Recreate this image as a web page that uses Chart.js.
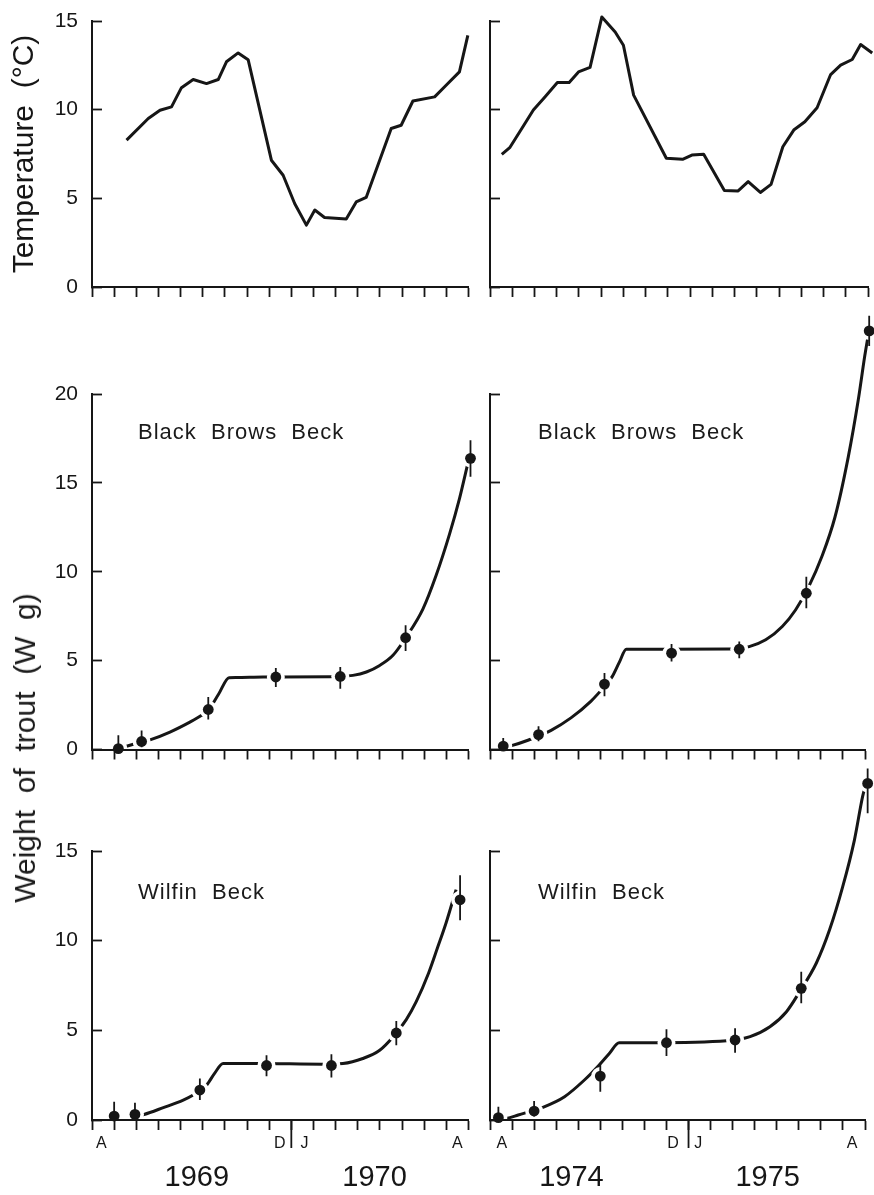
<!DOCTYPE html>
<html>
<head>
<meta charset="utf-8">
<script src="https://cdn.jsdelivr.net/npm/chart.js@4.4.1/dist/chart.umd.min.js"></script>
<style>
  html, body { margin: 0; padding: 0; background: #fff; }
  #wrap { position: relative; width: 874px; height: 1195px; overflow: hidden; background: #fff; }
  #wrap canvas { position: absolute; }
  .lbl { position: absolute; font-family: 'Liberation Sans', Arial, sans-serif; color: #1a1a1a; white-space: pre; line-height: 1; }
</style>
</head>
<body>
<div id="wrap">
  <canvas id="cTL" width="480" height="300" style="left:0;top:0"></canvas>
  <canvas id="cTR" width="394" height="300" style="left:480px;top:0"></canvas>
  <canvas id="cML" width="480" height="465" style="left:0;top:300px"></canvas>
  <canvas id="cMR" width="394" height="465" style="left:480px;top:300px"></canvas>
  <canvas id="cBL" width="480" height="430" style="left:0;top:765px"></canvas>
  <canvas id="cBR" width="394" height="430" style="left:480px;top:765px"></canvas>

  <div class="lbl" style="left:138px;top:421px;font-size:22px;letter-spacing:1px">Black  Brows  Beck</div>
  <div class="lbl" style="left:538px;top:421px;font-size:22px;letter-spacing:1px">Black  Brows  Beck</div>
  <div class="lbl" style="left:138px;top:881px;font-size:22px;letter-spacing:1px">Wilfin  Beck</div>
  <div class="lbl" style="left:538px;top:881px;font-size:22px;letter-spacing:1px">Wilfin  Beck</div>
  <div class="lbl" style="left:25px;top:748px;font-size:30px;transform:translate(-50%,-50%) rotate(-90deg)">Weight  of  trout  (W  g)</div>
</div>

<script>
// ---------------- DATA (x in axis units: tick intervals from start of April) ----------------
// Temperature, 1969-70
const temp6970X = [1.56, 2.54, 3.07, 3.59, 4.04, 4.57, 5.17, 5.7, 6.07, 6.6, 7.05, 8.1, 8.63, 9.15, 9.68, 10.06, 10.5, 11.48, 11.93, 12.38, 13.51, 13.96, 14.49, 15.47, 15.99, 16.59, 16.97];
const temp6970  = [8.28, 9.5, 9.97, 10.16, 11.24, 11.7, 11.47, 11.7, 12.7, 13.2, 12.82, 7.15, 6.3, 4.71, 3.49, 4.34, 3.92, 3.83, 4.8, 5.05, 8.94, 9.12, 10.49, 10.72, 11.38, 12.13, 14.19];
// Temperature, 1974-75
const temp7475X = [0.53, 0.9, 1.43, 1.95, 2.48, 3.03, 3.56, 3.98, 4.5, 5.03, 5.63, 6.0, 6.46, 7.93, 8.66, 9.08, 9.61, 10.54, 11.16, 11.61, 12.16, 12.64, 13.17, 13.66, 14.16, 14.71, 15.32, 15.77, 16.29, 16.67, 17.19];
const temp7475  = [7.48, 7.88, 8.94, 9.98, 10.73, 11.53, 11.53, 12.13, 12.38, 15.23, 14.38, 13.63, 10.82, 7.26, 7.2, 7.44, 7.48, 5.44, 5.42, 5.94, 5.33, 5.79, 7.91, 8.85, 9.32, 10.11, 11.98, 12.51, 12.83, 13.67, 13.2];

// Black Brows Beck 1969-70
const bbb6970SampleX = [1.19, 2.24, 5.25, 8.3, 11.21, 14.16, 17.09];
const bbb6970Mean    = [0.05, 0.45, 2.25, 4.08, 4.11, 6.29, 16.38];
const bbb6970Low     = [0, 0.13, 1.69, 3.51, 3.42, 5.54, 15.34];
const bbb6970High    = [0.8, 1.07, 2.95, 4.58, 4.64, 6.99, 17.4];
const bbb6970CurveX  = [1.19, 1.6, 2.24, 2.62, 3.52, 4.42, 4.95, 5.25, 5.72, 6.19, 6.5, 7.73, 10.73, 11.78, 12.39, 12.99, 13.59, 14.19, 14.94, 15.54, 16.14, 16.59, 16.97];
const bbb6970Curve   = [0.05, 0.2, 0.42, 0.54, 0.98, 1.54, 1.92, 2.2, 3.12, 4.04, 4.05, 4.08, 4.09, 4.17, 4.36, 4.73, 5.3, 6.33, 7.9, 9.8, 12.1, 14.1, 16.1];

// Black Brows Beck 1974-75
const bbb7475SampleX = [0.6, 2.2, 5.19, 8.23, 11.3, 14.34, 17.19];
const bbb7475Mean    = [0.19, 0.84, 3.68, 5.42, 5.64, 8.79, 23.55];
const bbb7475Low     = [0, 0.47, 3.0, 4.95, 5.14, 7.94, 22.7];
const bbb7475High    = [0.65, 1.31, 4.3, 5.94, 6.07, 9.72, 24.4];
const bbb7475CurveX  = [0.6, 0.9, 1.72, 2.77, 3.67, 4.57, 5.19, 5.54, 5.86, 6.18, 6.5, 7.26, 10.85, 11.75, 12.5, 13.25, 13.85, 14.45, 15.04, 15.64, 16.24, 16.69, 16.99, 17.14];
const bbb7475Curve   = [0.12, 0.19, 0.52, 1.08, 1.78, 2.71, 3.55, 4.1, 4.9, 5.64, 5.64, 5.64, 5.66, 5.79, 6.17, 6.92, 7.85, 9.16, 10.84, 13.08, 16.45, 19.63, 22.15, 23.27];

// Wilfin Beck 1969-70
const wb6970SampleX = [1.0, 1.94, 4.87, 7.88, 10.81, 13.74, 16.62];
const wb6970Mean    = [0.22, 0.31, 1.67, 3.04, 3.04, 4.85, 12.28];
const wb6970Low     = [0, 0, 1.11, 2.44, 2.37, 4.17, 11.14];
const wb6970High    = [1.02, 0.96, 2.31, 3.61, 3.67, 5.52, 13.65];
const wb6970CurveX  = [1.94, 2.35, 3.22, 4.12, 4.57, 5.17, 5.55, 5.92, 6.2, 7.43, 10.43, 11.33, 12.23, 12.99, 13.59, 14.19, 14.64, 15.2, 15.6, 15.99, 16.44];
const wb6970Curve   = [0.2, 0.31, 0.69, 1.11, 1.39, 1.94, 2.63, 3.15, 3.15, 3.15, 3.11, 3.15, 3.43, 3.89, 4.63, 5.6, 6.6, 8.2, 9.6, 11.0, 12.85];

// Wilfin Beck 1974-75
const wb7475SampleX = [0.38, 2.0, 5.0, 8.0, 11.11, 14.11, 17.12];
const wb7475Mean    = [0.13, 0.5, 2.45, 4.31, 4.46, 7.34, 18.77];
const wb7475Low     = [0, 0.19, 1.58, 3.57, 3.75, 6.51, 17.1];
const wb7475High    = [0.74, 1.06, 3.12, 5.06, 5.11, 8.27, 19.6];
const wb7475CurveX  = [0.38, 0.75, 1.28, 2.4, 3.38, 4.28, 4.95, 5.4, 5.86, 6.2, 7.28, 10.74, 11.79, 12.69, 13.44, 14.04, 14.79, 15.39, 15.99, 16.52, 16.89, 17.0];
const wb7475Curve   = [0.05, 0.09, 0.28, 0.71, 1.3, 2.23, 3.07, 3.7, 4.31, 4.31, 4.31, 4.42, 4.65, 5.2, 6.04, 7.16, 8.74, 10.59, 13.01, 15.61, 18.03, 18.57];

// Axis labels
const monthLabels = ['A', 'D', 'J', 'A'];
const monthTicks6970 = [0.42, 8.48, 9.6, 16.5];
const monthTicks7475 = [0.54, 8.3, 9.44, 16.41];
const yearLabels6970 = ['1969', '1970'];
const yearLabels7475 = ['1974', '1975'];
const yearTicks6970 = [4.73, 12.76];
const yearTicks7475 = [3.69, 12.59];
const janBoundary = 9;
const xAxisMax = 17;

// ---------------- RENDERING ----------------
const INK = '#161616';
const FONT = "'Liberation Sans', Arial, sans-serif";
Chart.defaults.font.family = FONT;
Chart.defaults.color = INK;

const zip = (xs, ys) => xs.map((x, i) => ({ x, y: ys[i] }));
// vertical error bars as separate 2-point segments (listed last-to-first so none is trimmed at the axis end)
function errorSegments(xs, lo, hi) {
  const out = [];
  for (let i = xs.length - 1; i >= 0; i--) {
    out.push({ x: xs[i], y: lo[i] }, { x: xs[i], y: hi[i] }, { x: xs[i], y: null });
  }
  return out;
}

const yearTickPlugin = {
  id: 'yearTick',
  afterDraw(chart, args, opts) {
    if (opts == null || opts.value == null) return;
    const xs = chart.scales.x;
    const px = xs.getPixelForValue(opts.value);
    const ctx = chart.ctx;
    ctx.save();
    ctx.strokeStyle = INK;
    ctx.lineWidth = 1.8;
    ctx.beginPath();
    ctx.moveTo(px, xs.top);
    ctx.lineTo(px, xs.top + opts.length);
    ctx.stroke();
    ctx.restore();
  }
};

// let marks that sit above the plotted range (e.g. last sample) still be drawn
const looseAreaPlugin = {
  id: 'looseArea',
  beforeDatasetsDraw(chart) {
    const a = chart.chartArea;
    chart.$savedArea = { left: a.left, right: a.right, top: a.top, bottom: a.bottom };
    a.left = 0; a.top = 0; a.right = chart.width; a.bottom = chart.height;
  },
  afterDatasetsDraw(chart) {
    Object.assign(chart.chartArea, chart.$savedArea);
  }
};

function makeChart(id, cfg) {
  const scales = {
    x: {
      type: 'linear', position: 'bottom', min: 0, max: xAxisMax, weight: 0, z: 1,
      ticks: { display: false, stepSize: 1, maxTicksLimit: 40, z: 1 },
      grid: { drawOnChartArea: false, drawTicks: true, tickLength: 10, tickWidth: 1.8, tickColor: INK, z: 1 },
      border: { display: true, color: INK, width: 2, z: 1 },
      afterFit: s => { s.height = cfg.xHeight; s.paddingLeft = 0; s.paddingRight = 0; }
    },
    y: {
      type: 'linear', position: 'left', min: 0, max: cfg.ymax, z: 1,
      ticks: { display: cfg.left, stepSize: 5, padding: 24, color: INK, font: { family: FONT, size: 21 }, z: 1 },
      grid: { drawOnChartArea: false, drawTicks: true, tickLength: -10, tickWidth: 1.8, tickColor: INK, z: 1 },
      border: { display: true, color: INK, width: 2, z: 1 },
      title: cfg.yTitle ? { display: true, text: cfg.yTitle, color: INK, font: { family: FONT, size: 30 }, padding: { top: 7, bottom: 0 } } : { display: false },
      afterFit: s => { s.width = cfg.left ? 92 : 10; s.paddingTop = 0; s.paddingBottom = 0; }
    }
  };
  if (cfg.months) {
    scales.x2 = {
      type: 'linear', position: 'bottom', min: 0, max: xAxisMax, weight: 1,
      afterBuildTicks: s => { s.ticks = cfg.monthTicks.map(v => ({ value: v })); },
      ticks: { autoSkip: false, maxRotation: 0, padding: 4, color: INK, font: { family: FONT, size: 16 },
               callback: (v, i) => cfg.months[i] },
      grid: { display: false, drawTicks: false, drawOnChartArea: false },
      border: { display: false },
      afterFit: s => { s.height = 26; s.paddingLeft = 0; s.paddingRight = 0; }
    };
    scales.x3 = {
      type: 'linear', position: 'bottom', min: 0, max: xAxisMax, weight: 2,
      afterBuildTicks: s => { s.ticks = cfg.yearTicks.map(v => ({ value: v })); },
      ticks: { autoSkip: false, maxRotation: 0, padding: 5, color: INK, font: { family: FONT, size: 29 },
               callback: (v, i) => cfg.years[i] },
      grid: { display: false, drawTicks: false, drawOnChartArea: false },
      border: { display: false },
      afterFit: s => { s.height = 39; s.paddingLeft = 0; s.paddingRight = 0; }
    };
  }
  return new Chart(document.getElementById(id), {
    type: 'line',
    data: { datasets: cfg.datasets },
    options: {
      responsive: false,
      animation: false,
      events: [],
      layout: { padding: { top: cfg.padTop, left: 0, right: cfg.left ? 11.5 : 6, bottom: 0 } },
      plugins: { legend: { display: false }, tooltip: { enabled: false },
                 yearTick: cfg.months ? { value: janBoundary, length: 28 } : null },
      scales
    },
    plugins: [yearTickPlugin, looseAreaPlugin]
  });
}

function tempDatasets(xs, ys) {
  return [{ data: zip(xs, ys), xAxisID: 'x', yAxisID: 'y', borderColor: INK, borderWidth: 3,
            pointRadius: 0, tension: 0, clip: false, borderJoinStyle: 'round' }];
}

function weightDatasets(sx, mean, lo, hi, cx, cy) {
  return [
    { data: zip(cx, cy), xAxisID: 'x', yAxisID: 'y', borderColor: INK, borderWidth: 3, pointRadius: 0,
      cubicInterpolationMode: 'monotone', clip: false, order: 4 },
    { data: zip(sx, mean), xAxisID: 'x', yAxisID: 'y', showLine: false, pointRadius: 9,
      pointBackgroundColor: '#ffffff', pointBorderWidth: 0, clip: false, order: 3 },
    { data: errorSegments(sx, lo, hi), xAxisID: 'x', yAxisID: 'y', borderColor: INK, borderWidth: 1.8,
      pointRadius: 0, spanGaps: false, tension: 0, clip: false, order: 2 },
    { data: zip(sx, mean), xAxisID: 'x', yAxisID: 'y', showLine: false, pointRadius: 5.4,
      pointBackgroundColor: INK, pointBorderWidth: 0, clip: false, order: 1 }
  ];
}

makeChart('cTL', { left: true, ymax: 15, padTop: 21, xHeight: 13, yTitle: 'Temperature  (°C)',
  datasets: tempDatasets(temp6970X, temp6970) });
makeChart('cTR', { left: false, ymax: 15, padTop: 21, xHeight: 13,
  datasets: tempDatasets(temp7475X, temp7475) });

makeChart('cML', { left: true, ymax: 20, padTop: 94, xHeight: 15.5,
  datasets: weightDatasets(bbb6970SampleX, bbb6970Mean, bbb6970Low, bbb6970High, bbb6970CurveX, bbb6970Curve) });
makeChart('cMR', { left: false, ymax: 20, padTop: 94, xHeight: 15.5,
  datasets: weightDatasets(bbb7475SampleX, bbb7475Mean, bbb7475Low, bbb7475High, bbb7475CurveX, bbb7475Curve) });

makeChart('cBL', { left: true, ymax: 15, padTop: 86, xHeight: 10,
  months: monthLabels, monthTicks: monthTicks6970, years: yearLabels6970, yearTicks: yearTicks6970,
  datasets: weightDatasets(wb6970SampleX, wb6970Mean, wb6970Low, wb6970High, wb6970CurveX, wb6970Curve) });
makeChart('cBR', { left: false, ymax: 15, padTop: 86, xHeight: 10,
  months: monthLabels, monthTicks: monthTicks7475, years: yearLabels7475, yearTicks: yearTicks7475,
  datasets: weightDatasets(wb7475SampleX, wb7475Mean, wb7475Low, wb7475High, wb7475CurveX, wb7475Curve) });
</script>
</body>
</html>
